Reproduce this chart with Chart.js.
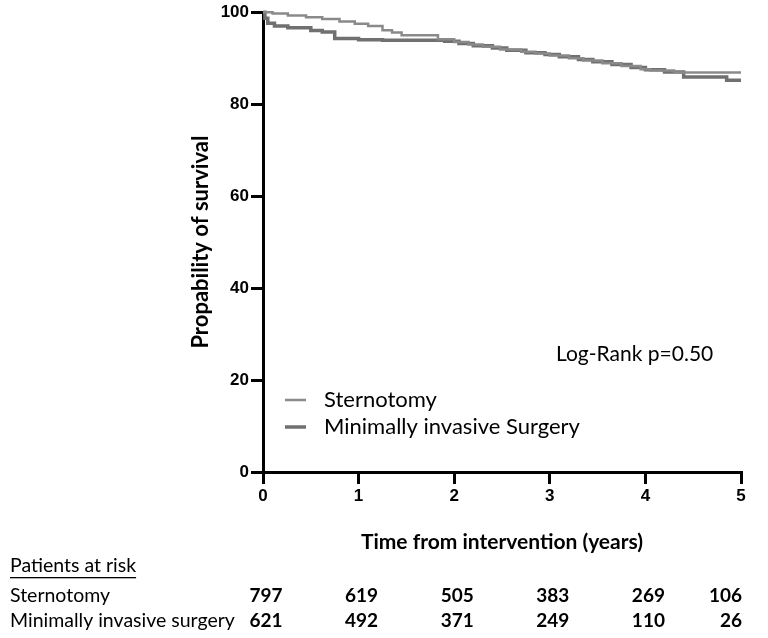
<!DOCTYPE html>
<html>
<head>
<meta charset="utf-8">
<script src="https://cdn.jsdelivr.net/npm/chart.js@4"></script>
<style>
  body { margin: 0; background: #fff; }
  #wrap { width: 768px; height: 638px; }
</style>
</head>
<body>
<div id="wrap"><canvas id="km" width="768" height="638"></canvas></div>
<script>
// Kaplan-Meier steps (time in years, survival in %)
const sternTime = [0, 0.1, 0.26, 0.45, 0.62, 0.8, 0.96, 1.1, 1.25, 1.35, 1.45, 1.83, 2.0, 2.15, 2.3, 2.48, 2.7, 2.85, 3.0, 3.2, 3.35, 3.55, 3.75, 3.95, 4.05, 4.3, 5.0];
const sternSurv = [100, 99.7, 99.3, 98.9, 98.5, 98.0, 97.5, 97.0, 96.1, 95.6, 95.0, 94.1, 93.5, 93.0, 92.5, 91.9, 91.4, 91.0, 90.6, 90.0, 89.5, 88.9, 88.3, 87.6, 87.3, 86.9, 86.9];

const misTime = [0, 0.02, 0.05, 0.12, 0.26, 0.5, 0.62, 0.75, 1.0, 1.25, 1.9, 2.05, 2.2, 2.4, 2.55, 2.75, 2.95, 3.1, 3.3, 3.45, 3.65, 3.85, 4.0, 4.2, 4.4, 4.85, 5.0];
const misSurv = [100, 98.7, 97.6, 97.0, 96.6, 96.0, 95.7, 94.3, 94.0, 93.9, 93.7, 93.2, 92.7, 92.2, 91.7, 91.2, 90.8, 90.3, 89.7, 89.2, 88.6, 88.0, 87.5, 87.0, 85.9, 85.2, 85.2];

const riskTimes = [0, 1, 2, 3, 4, 5];
const atRiskStern = [797, 619, 505, 383, 269, 106];
const atRiskMis = [621, 492, 371, 249, 110, 26];

const groupNames = ['Sternotomy', 'Minimally invasive Surgery'];
const riskRowNames = ['Sternotomy', 'Minimally invasive surgery'];
const pText = 'Log-Rank p=0.50';

const toPoints = (xs, ys) => xs.map((x, i) => ({ x: x, y: ys[i] }));

const CAL = 'Lato, "Open Sans", sans-serif';
const ARIAL = '"Liberation Sans", Arial, sans-serif';

// legend, p-value and the numbers-at-risk table
const extras = {
  id: 'extras',
  afterDraw(chart) {
    const ctx = chart.ctx;
    const xs = chart.scales.x;
    const area = chart.chartArea;
    ctx.save();
    ctx.fillStyle = '#000';
    ctx.textBaseline = 'middle';

    // legend
    const legY = [400, 427];
    chart.data.datasets.forEach((ds, i) => {
      ctx.strokeStyle = ds.borderColor;
      ctx.lineWidth = ds.borderWidth;
      ctx.beginPath();
      ctx.moveTo(285, legY[i]);
      ctx.lineTo(306, legY[i]);
      ctx.stroke();
      ctx.font = '22px ' + CAL;
      ctx.textAlign = 'left';
      ctx.fillText(groupNames[i], 324, legY[i]);
    });

    ctx.font = '21px ' + CAL;
    ctx.fillText(pText, 556, 354);

    // patients at risk
    ctx.font = '19.5px ' + CAL;
    ctx.fillText('Patients at risk', 10, 566);
    const w = ctx.measureText('Patients at risk').width;
    ctx.fillRect(10, 577, w, 1.3);

    const rows = [atRiskStern, atRiskMis];
    const rowY = [596, 621];
    rows.forEach((vals, r) => {
      ctx.font = '19.5px ' + CAL;
      ctx.textAlign = 'left';
      ctx.fillText(riskRowNames[r], 10, rowY[r]);
      ctx.font = 'bold 19px ' + CAL;
      vals.forEach((v, i) => {
        const last = i === vals.length - 1;
        ctx.textAlign = last ? 'right' : 'center';
        const px = last ? area.right + 1 : xs.getPixelForValue(riskTimes[i]) + 3;
        ctx.fillText(String(v), px, rowY[r]);
      });
    });
    ctx.restore();
  }
};

const ctx = document.getElementById('km').getContext('2d');

new Chart(ctx, {
  type: 'line',
  data: {
    datasets: [{
      label: groupNames[0],
      data: toPoints(sternTime, sternSurv),
      borderColor: '#8a8a8a',
      borderWidth: 2.5,
      stepped: true,
      pointRadius: 0,
      fill: false,
      clip: false
    }, {
      label: groupNames[1],
      data: toPoints(misTime, misSurv),
      borderColor: '#707070',
      borderWidth: 3.5,
      stepped: true,
      pointRadius: 0,
      fill: false,
      clip: false
    }]
  },
  options: {
    responsive: false,
    animation: false,
    layout: { padding: { left: 188, top: 12, right: 27, bottom: 76 } },
    plugins: {
      legend: { display: false },
      tooltip: { enabled: false }
    },
    scales: {
      x: {
        type: 'linear',
        min: 0,
        max: 5,
        afterFit: s => { s.height = 90; },
        ticks: {
          stepSize: 1,
          padding: 2,
          color: '#000',
          font: { family: ARIAL, size: 17, weight: 'bold' }
        },
        grid: { drawOnChartArea: false, color: '#000', lineWidth: 3, tickLength: 12 },
        border: { color: '#000', width: 3 },
        title: {
          display: true,
          text: 'Time from intervention (years)',
          color: '#000',
          padding: { top: 0, bottom: 7 },
          font: { family: CAL, size: 21, weight: 'bold' }
        }
      },
      y: {
        min: 0,
        max: 100,
        afterFit: s => { s.width = 75; },
        ticks: {
          stepSize: 20,
          padding: 2,
          color: '#000',
          font: { family: ARIAL, size: 17, weight: 'bold' }
        },
        grid: { drawOnChartArea: false, color: '#000', lineWidth: 3, tickLength: 12 },
        border: { color: '#000', width: 3 },
        title: {
          display: true,
          text: 'Propability of survival',
          color: '#000',
          padding: { top: 0, bottom: 0 },
          font: { family: CAL, size: 22, weight: 'bold' }
        }
      }
    }
  },
  plugins: [extras]
});
</script>
</body>
</html>
